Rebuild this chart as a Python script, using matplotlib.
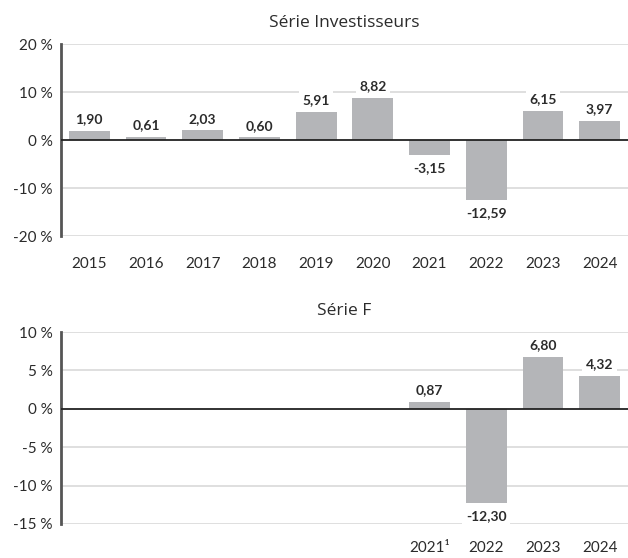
import numpy as np
import matplotlib.pyplot as plt

years = ['2015', '2016', '2017', '2018', '2019', '2020', '2021', '2022', '2023', '2024']
inv_values = [1.90, 0.61, 2.03, 0.60, 5.91, 8.82, -3.15, -12.59, 6.15, 3.97]
f_values = [np.nan, np.nan, np.nan, np.nan, np.nan, np.nan, 0.87, -12.30, 6.80, 4.32]
f_labels = ['', '', '', '', '', '', '2021¹', '2022', '2023', '2024']

inv_ticks = [-20, -10, 0, 10, 20]
f_ticks = [-15, -10, -5, 0, 5, 10]

plt.rcParams['font.family'] = ['Lato', 'DejaVu Sans']

bar_color = '#b4b5b8'
grid_color = '#d9d9d9'
text_color = '#2b2b2b'


def fr(v):
    return f'{v:.2f}'.replace('.', ',')


def draw_panel(ax, values, ticks, xlabels, title, xpad):
    x = np.arange(len(years))
    vals = np.array(values, dtype=float)
    ax.bar(x, np.nan_to_num(vals), width=0.72, color=bar_color, zorder=2)
    ax.set_xlim(-0.5, len(years) - 0.5)
    ax.set_ylim(ticks[0], ticks[-1])
    ax.set_yticks(ticks)
    ax.set_yticklabels([f'{t} %' for t in ticks], fontsize=11, color=text_color)
    ax.set_xticks(x)
    ax.set_xticklabels(xlabels, fontsize=11, color=text_color)
    ax.tick_params(length=0, axis='y', pad=6)
    ax.tick_params(length=0, axis='x', pad=xpad)
    for t in ticks:
        if t != 0:
            ax.axhline(t, color=grid_color, lw=1.2, zorder=0)
    ax.axhline(0, color='#222222', lw=1.3, zorder=3)
    for s in ['top', 'right', 'bottom']:
        ax.spines[s].set_visible(False)
    ax.spines['left'].set_color('#555555')
    ax.spines['left'].set_linewidth(2)
    for xi, v in zip(x, vals):
        if np.isnan(v):
            continue
        off = 4 if v >= 0 else -5
        ax.annotate(fr(v), (xi, v), xytext=(0, off), textcoords='offset points',
                    ha='center', va='bottom' if v >= 0 else 'top',
                    fontsize=10, fontweight='bold', color=text_color, zorder=4,
                    bbox=dict(boxstyle='square,pad=0.25', fc='white', ec='none'))
    ax.set_title(title, fontsize=12.5, color=text_color, pad=12,
                 family=['Open Sans', 'DejaVu Sans'])


fig = plt.figure(figsize=(6.28, 5.58), dpi=100)
ax1 = fig.add_axes([0.097, 0.577, 0.903, 0.344])
ax2 = fig.add_axes([0.097, 0.061, 0.903, 0.344])

draw_panel(ax1, inv_values, inv_ticks, years, 'Série Investisseurs', 15)
draw_panel(ax2, f_values, f_ticks, f_labels, 'Série F', 12)

fig.savefig('out.png', dpi=100)
